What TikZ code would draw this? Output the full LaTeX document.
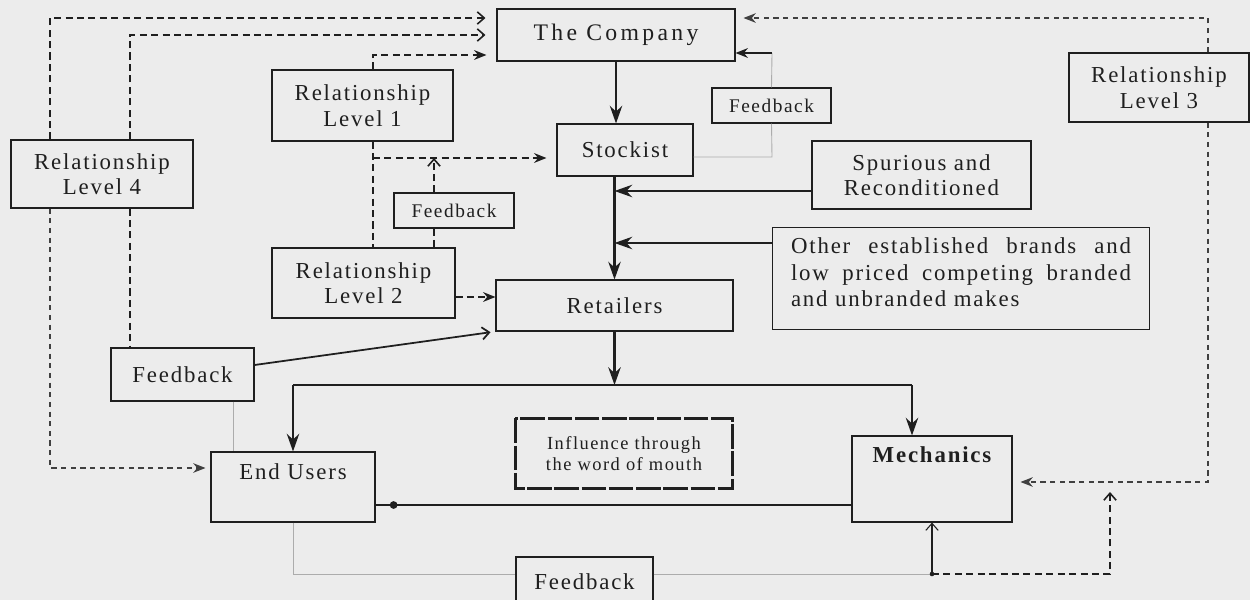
\documentclass[tikz,border=0pt]{standalone}
\usepackage{fontspec}
\setmainfont{Liberation Serif}[LetterSpace=8]
\usetikzlibrary{arrows.meta,calc}
\definecolor{bg}{gray}{0.925}
\definecolor{ink}{gray}{0.12}
\begin{document}
\begin{tikzpicture}[x=0.2mm,y=-0.2mm,
  bx/.style={draw=ink, line width=0.6pt, inner sep=0pt, align=center, text=ink,
             font=\fontsize{13}{14.5}\selectfont},
  sbx/.style={bx, font=\fontsize{11}{13}\selectfont},
  thk/.style={draw=ink, line width=1.6pt},
  filltip/.style={-{Stealth[length=7pt,width=5.5pt]}},
  opentip/.style={-{Straight Barb[length=4pt,width=7pt]}},
  thkarr/.style={thk, -{Stealth[length=10pt,width=7pt]}},
  dsh/.style={draw=ink, line width=0.9pt, dash pattern=on 4pt off 2.5pt},
  dshb/.style={draw=ink, line width=1.4pt, dash pattern=on 4pt off 2.5pt},
  dshl/.style={draw=ink!85, line width=0.6pt, dash pattern=on 3pt off 2.5pt},
  thinl/.style={draw=gray!65, line width=0.5pt}
]
\fill[bg] (0,0) rectangle (1250,600);
\useasboundingbox (0,0) rectangle (1250,600);

% boxes
\node[bx, minimum width=47.6mm, minimum height=10.4mm, font=\addfontfeature{LetterSpace=14}\fontsize{13.5}{15}\selectfont] (comp) at (616,35) {The Company};
\node[bx, minimum width=27.2mm, minimum height=10.4mm] (stock) at (625,150) {Stockist};
\node[sbx, minimum width=23.8mm, minimum height=7mm] (fbtr) at (771.5,105.5) {Feedback};
\node[bx, minimum width=36.2mm, minimum height=14.2mm] (rl1) at (362.5,105.5) {Relationship\\Level 1};
\node[bx, minimum width=36.4mm, minimum height=13.6mm] (rl4) at (102,174) {Relationship\\Level 4};
\node[sbx, minimum width=24mm, minimum height=7mm] (fbm) at (454,210.5) {Feedback};
\node[bx, minimum width=36.6mm, minimum height=14mm] (rl2) at (363.5,283) {Relationship\\Level 2};
\node[bx, minimum width=47.4mm, minimum height=10.2mm] (ret) at (614.5,305.5) {Retailers};
\node[bx, minimum width=43.8mm, minimum height=13.6mm] (spur) at (921.5,175) {Spurious and\\Reconditioned};
\node[bx, anchor=north west, inner xsep=3.7mm, inner ysep=0pt] (other) at (772,227)
  {\parbox[c][20.4mm][t]{68mm}{\fontsize{13}{15}\selectfont\vspace*{6pt}%
   \noindent\hbox to\linewidth{Other\hfill established\hfill brands\hfill and}\par
   \noindent\hbox to\linewidth{low\hfill priced\hfill competing\hfill branded}\par
   \noindent and unbranded makes}};
\node[bx, minimum width=36mm, minimum height=13.8mm] (rl3) at (1159,87.5) {Relationship\\Level 3};
\node[bx, minimum width=28.6mm, minimum height=10.6mm] (fbl) at (182.5,374.5) {Feedback};
\node[bx, minimum width=32.8mm, minimum height=14mm, text height=9pt, text depth=18pt] (eu) at (293,487) {End Users};
\node[bx, draw=none, minimum width=43.2mm, minimum height=13.8mm, font=\fontsize{10.5}{12}\selectfont] (infl) at (624,453.5) {Influence through\\the word of mouth};
\draw[ink, line width=1.2pt, dash pattern=on 14pt off 1.5pt] (infl.north west) rectangle (infl.south east);
\node[bx, minimum width=32mm, minimum height=17.2mm, text height=9pt, text depth=28pt, font=\fontsize{13}{14.5}\selectfont\bfseries] (mech) at (932,479) {Mechanics};
\node[bx, minimum width=27.4mm, minimum height=10mm] (fbb) at (584.5,582) {Feedback};

% coordinates
\coordinate (a1) at (50,18);
\coordinate (a2) at (130,35);
\coordinate (a3) at (50,468);
\coordinate (b1) at (373,55);
\coordinate (b2) at (373,158);
\coordinate (c1) at (434,158);
\coordinate (sj) at (614.5,191);
\coordinate (oj) at (614.5,243);
\coordinate (rj) at (614.5,385);
\coordinate (ml) at (912,385);
\coordinate (y297) at (0,297);
\coordinate (y505) at (0,505);
\coordinate (y365) at (0,365);
\coordinate (d1) at (233,0);
\coordinate (y574) at (0,574);
\coordinate (e1) at (932,574);
\coordinate (e2) at (1110,574);
\coordinate (e3) at (1110,492);
\coordinate (f1) at (1208,18);
\coordinate (f2) at (1208,482);
\coordinate (g1) at (772,53);
\coordinate (g2) at (772,157);

% main flow
\draw[thkarr] (comp.south) -- (comp.south |- stock.north);
\draw[thkarr] (stock.south -| ret.north) -- (ret.north);
\draw[thkarr] (spur.west |- sj) -- (sj);
\draw[thkarr] (other.west |- oj) -- (oj);
\draw[thkarr] (ret.south) -- (rj);
\draw[draw=ink, line width=1pt] (eu.north |- rj) -- (ml);
\draw[thkarr] (eu.north |- rj) -- (eu.north);
\draw[thkarr] (ml) -- (ml |- mech.north);
\draw[thk] (mech.west |- y505) -- coordinate[pos=0.962] (dot) (eu.east |- y505);
\fill[ink] (dot) circle (2.2pt);

% relationship level 4
\draw[dsh, opentip, shorten >=2.2mm] (rl4.north -| a1) -- (a1) -- (comp.west |- a1);
\draw[dsh, opentip, shorten >=2.2mm] (rl4.north -| a2) -- (a2) -- (comp.west |- a2);
\draw[dsh] (rl4.south -| a2) -- (fbl.north -| a2);
\draw[dshl, filltip, shorten >=1mm] (rl4.south -| a1) -- (a3) -- (eu.west |- a3);

% relationship level 1 / 2
\draw[dshb, filltip, shorten >=2mm] (rl1.north -| b1) -- (b1) -- (comp.west |- b1);
\draw[dshb] (rl1.south -| b1) -- (rl2.north -| b1);
\draw[dshb, filltip, shorten >=2mm] (b2) -- (stock.west |- b2);
\draw[dsh, opentip] (fbm.north -| c1) -- (c1);
\draw[dsh] (fbm.south -| c1) -- (rl2.north -| c1);
\draw[dshb, filltip] (rl2.east |- y297) -- (ret.west |- y297);

% feedback left
\draw[draw=ink, line width=1pt, opentip, shorten >=1mm] (fbl.east |- y365) -- (ret.south west);
\draw[thinl] (fbl.south -| d1) -- (eu.north -| d1);

% bottom feedback
\draw[thinl] (eu.south) -- (eu.south |- y574) -- (fbb.west |- y574);
\draw[thinl] (fbb.east |- y574) -- (e1);
\draw[draw=ink, line width=0.6pt, opentip] (e1) -- (mech.south);
\fill[ink] (e1) circle (1.3pt);
\draw[dsh, opentip] (e1) -- (e2) -- (e3);

% relationship level 3
\draw[dshl, filltip, shorten >=1.6mm] (rl3.north -| f1) -- (f1) -- (comp.east |- f1);
\draw[dshl, filltip, shorten >=1.6mm] (rl3.south -| f1) -- (f2) -- (mech.east |- f2);

% feedback top right
\draw[thinl] (fbtr.north) -- (g1);
\draw[draw=ink, line width=1.2pt, filltip] (g1) -- (comp.east |- g1);
\draw[thinl] (fbtr.south) -- (g2) -- (stock.east |- g2);
\end{tikzpicture}
\end{document}
